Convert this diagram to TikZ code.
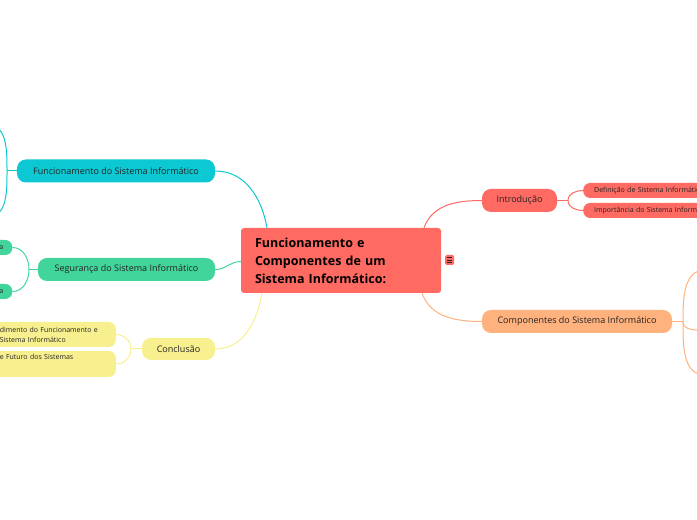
\documentclass[tikz,border=0pt]{standalone}
\usepackage{fontspec}
\setmainfont{Open Sans}
\definecolor{redc}{RGB}{255,106,98}
\definecolor{cyanc}{RGB}{12,200,210}
\definecolor{greenc}{RGB}{66,213,155}
\definecolor{yellowc}{RGB}{248,240,142}
\definecolor{orangec}{RGB}{255,178,125}
\definecolor{ink}{RGB}{35,35,35}
\begin{document}
\begin{tikzpicture}[x=1bp, y=1bp,
    topic/.style={rounded corners=3bp, fill=redc, text=black, font=\fontsize{12.5bp}{18bp}\selectfont\bfseries, align=left, text width=172bp, inner xsep=14bp, minimum width=200bp, minimum height=65bp},
    branch/.style={rounded corners=9bp, text=ink, font=\fontsize{9bp}{10bp}\selectfont, minimum height=23bp, inner sep=0pt},
    leaf/.style={rounded corners=7bp, text=ink, font=\fontsize{7bp}{10bp}\selectfont, minimum height=15bp, inner ysep=0pt, align=left},
    link/.style={line width=1bp}
]
\useasboundingbox (0,0) rectangle (697,520);
\clip (0,0) rectangle (697,520);

\node[topic] (main) at (341,259.5) {Funcionamento e\\Componentes de um\\Sistema Informático:};
\node[rounded corners=1.5bp, fill=redc, minimum width=9bp, minimum height=10bp, inner sep=0pt] (menu) at (449.5,260) {};
\foreach \dy in {-2.2,0,2.2}
  \draw[ink, line width=0.7bp] ([shift={(-2.5,\dy)}]menu.center) -- ([shift={(2.5,\dy)}]menu.center);

\node[branch, fill=cyanc, minimum width=198bp] (func) at (116,349) {Funcionamento do Sistema Informático};
\node[branch, fill=greenc, minimum width=177bp] (seg) at (126.5,250.5) {Segurança do Sistema Informático};
\node[branch, fill=yellowc, minimum width=73bp, minimum height=22bp] (conc) at (178.5,171) {Conclusão};
\node[branch, fill=redc, minimum width=75bp] (intro) at (519.5,319.5) {Introdução};
\node[branch, fill=orangec, minimum width=190bp] (comp) at (577,198.5) {Componentes do Sistema Informático};

\node[leaf, fill=greenc, anchor=east, text width=51bp, inner xsep=9bp, align=right] (seg1) at (12.5,272.5) {a};
\node[leaf, fill=greenc, anchor=east, text width=51bp, inner xsep=9bp, align=right] (seg2) at (12.5,228.5) {a};
\node[leaf, fill=yellowc, anchor=east, text width=106bp, inner xsep=10bp, minimum height=25bp] (conc1) at (116,185.5) {dimento do Funcionamento e\\Sistema Informático};
\node[leaf, fill=yellowc, anchor=east, text width=106bp, inner xsep=10bp, text height=5bp, text depth=13bp, inner ysep=4bp] (conc2) at (116,156) {e Futuro dos Sistemas};
\node[leaf, fill=redc, anchor=west, text width=140bp, inner xsep=11bp] (intro1) at (583,329.5) {Definição de Sistema Informático};
\node[leaf, fill=redc, anchor=west, text width=140bp, inner xsep=11bp] (intro2) at (583,309.5) {Importância do Sistema Informático};

\coordinate (fj) at (7,349);
\coordinate (fup) at (-12,395);
\coordinate (fdown) at (-12,303);
\coordinate (sj) at (29,250.5);
\coordinate (cj) at (131,171);
\coordinate (ij) at (568,319.5);
\coordinate (kj) at (683,198.5);
\coordinate (kup) at (705,250);
\coordinate (kmid) at (705,190);
\coordinate (kdown) at (705,145);

\draw[link, cyanc] (func.east) to[out=0, in=100] ([xshift=-74bp]main.north);
\draw[link, greenc] (seg.east) to[out=0, in=180] ([yshift=-1bp]main.west);
\draw[link, yellowc] (conc.east) to[out=0, in=-100] ([xshift=-79bp]main.south);
\draw[link, redc] (intro.west) to[out=180, in=70] ([xshift=83bp]main.north);
\draw[link, orangec] (comp.west) to[out=180, in=-70] ([xshift=81bp]main.south);

\draw[link, cyanc] (func.west) -- (fj);
\draw[link, cyanc] (fj) to[out=90, in=0] (fup);
\draw[link, cyanc] (fj) to[out=-90, in=0] (fdown);
\draw[link, greenc] (seg.west) -- (sj);
\draw[link, greenc] (sj) to[out=90, in=0] (seg1.east);
\draw[link, greenc] (sj) to[out=-90, in=0] (seg2.east);
\draw[link, yellowc] (conc.west) -- (cj);
\draw[link, yellowc] (cj) to[out=90, in=0] (conc1.east);
\draw[link, yellowc] (cj) to[out=-90, in=0] (conc2.east);
\draw[link, redc] (intro.east) -- (ij);
\draw[link, redc] (ij) to[out=90, in=180] (intro1.west);
\draw[link, redc] (ij) to[out=-90, in=180] (intro2.west);
\draw[link, orangec] (comp.east) -- (kj);
\draw[link, orangec] (kj) to[out=90, in=180] (kup);
\draw[link, orangec] (kj) to[out=-90, in=180] (kmid);
\draw[link, orangec] (kj) to[out=-90, in=180] (kdown);
\end{tikzpicture}
\end{document}
